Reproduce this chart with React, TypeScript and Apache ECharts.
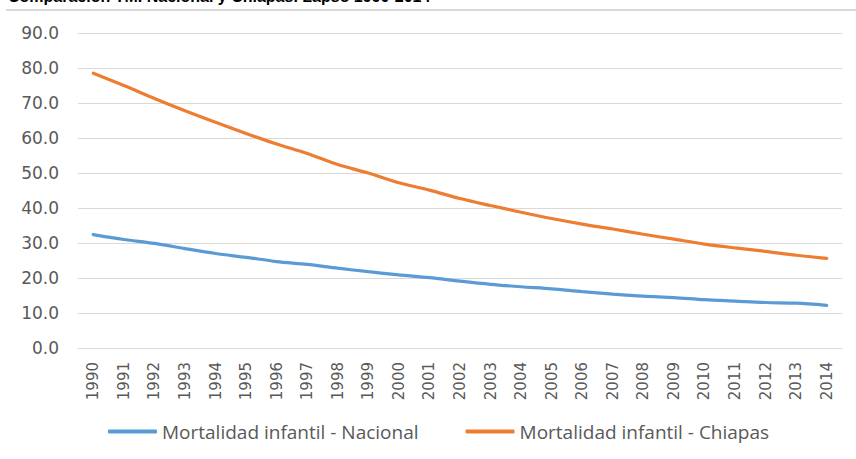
import React, { useEffect, useRef } from "react";
import * as echarts from "echarts";

const years = ["1990","1991","1992","1993","1994","1995","1996","1997","1998","1999","2000","2001","2002","2003","2004","2005","2006","2007","2008","2009","2010","2011","2012","2013","2014"];
const nacional = [32.4,31.0,29.9,28.4,27.0,25.9,24.7,23.9,22.8,21.8,20.9,20.1,19.1,18.2,17.5,16.9,16.1,15.4,14.8,14.4,13.8,13.4,13.0,12.8,12.2];
const chiapas = [78.5,75.0,71.3,67.8,64.5,61.3,58.3,55.6,52.4,50.0,47.2,45.1,42.7,40.7,38.8,37.0,35.4,34.0,32.5,31.1,29.7,28.6,27.6,26.5,25.6];
const seriesNames = ["Mortalidad infantil - Nacional", "Mortalidad infantil - Chiapas"];
const yTicks = { min: 0, max: 90, interval: 10 };
const titleText = "Comparación TMI Nacional y Chiapas. Lapso 1990-2014";

export default function App() {
  const ref = useRef<HTMLDivElement>(null);
  useEffect(() => {
    document.body.style.margin = "0";
    const chart = echarts.init(ref.current!, null, { renderer: "svg" });
    chart.setOption({
      animation: false,
      backgroundColor: "#ffffff",
      graphic: [
        {
          type: "text",
          left: 8,
          top: -12,
          style: { text: titleText, font: "bold 16px 'Liberation Sans', Arial, sans-serif", fill: "#000000" },
        },
        {
          type: "rect",
          shape: { x: 6, y: 9, width: 850, height: 2 },
          style: { fill: "#d9d9d9" },
        },
      ],
      grid: { left: 78, right: 14, top: 33, bottom: 111, containLabel: false },
      legend: {
        data: seriesNames.map((n) => ({ name: n, icon: "roundRect" })),
        left: 108,
        top: 422,
        padding: 0,
        itemWidth: 49,
        itemHeight: 4,
        itemGap: 47,
        textStyle: { fontSize: 19, color: "#595959", fontFamily: "'Open Sans', sans-serif" },
      },
      xAxis: {
        type: "category",
        data: years,
        boundaryGap: true,
        axisLine: { show: true, lineStyle: { color: "#d9d9d9", width: 1 } },
        axisTick: { show: false },
        axisLabel: { rotate: 90, fontSize: 15, color: "#595959", margin: 14, fontFamily: "'DejaVu Sans', sans-serif", interval: 0 },
      },
      yAxis: {
        type: "value",
        min: yTicks.min,
        max: yTicks.max,
        interval: yTicks.interval,
        axisLine: { show: false },
        axisTick: { show: false },
        splitLine: { lineStyle: { color: "#d9d9d9", width: 1 } },
        axisLabel: {
          formatter: (v: number) => v.toFixed(1),
          fontSize: 17,
          color: "#595959",
          margin: 19,
          fontFamily: "'DejaVu Sans', sans-serif",
        },
      },
      series: [
        {
          name: seriesNames[0],
          type: "line",
          data: nacional,
          smooth: 0.3,
          showSymbol: false,
          symbol: "none",
          lineStyle: { color: "#5B9BD5", width: 3.2, cap: "round" },
          itemStyle: { color: "#5B9BD5" },
        },
        {
          name: seriesNames[1],
          type: "line",
          data: chiapas,
          smooth: 0.3,
          showSymbol: false,
          symbol: "none",
          lineStyle: { color: "#ED7D31", width: 3.2, cap: "round" },
          itemStyle: { color: "#ED7D31" },
        },
      ],
    });
    return () => chart.dispose();
  }, []);
  return <div ref={ref} style={{ width: 856, height: 459 }} />;
}
